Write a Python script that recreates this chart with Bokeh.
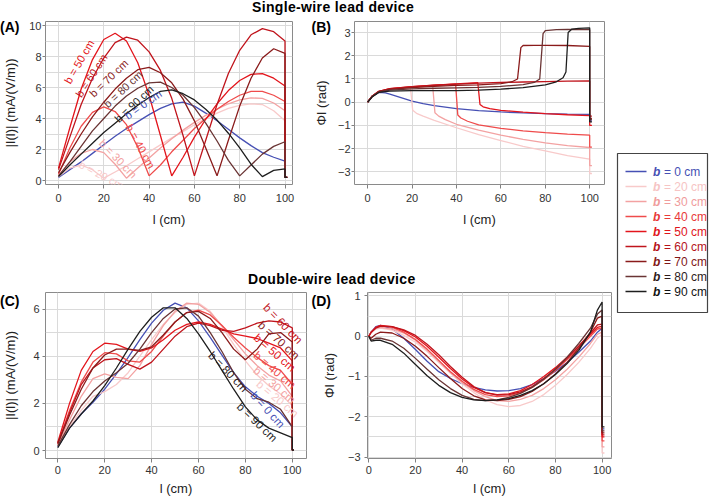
from bokeh.plotting import figure
from bokeh.layouts import row, column
from bokeh.models import Range1d, Div, FixedTicker
from bokeh.embed import file_html
from bokeh.resources import INLINE
from bokeh.core.properties import value

FONT = "Liberation Sans"

# ---------------- data ----------------
B_CM = [0, 20, 30, 40, 50, 60, 70, 80, 90]
LINE_COLORS = ["#4650b4", "#f8caca", "#f3a2a2", "#ef4b4b", "#e3151c", "#c0141c", "#8a1b1b", "#6a3434", "#1e1e1e"]
TEXT_COLORS = ["#4650b4", "#f6c4c4", "#f09c9c", "#e83a3a", "#e0141b", "#b5121a", "#7f1616", "#2e1a1a", "#111111"]

L_GRID = [0, 5, 10, 15, 20, 25, 30, 35, 40, 45, 50, 55, 60, 65, 70, 75, 80, 85, 90, 95, 100]

# (A) single-wire |I(l)|
A_B0 = [0.2, 0.7, 1.2, 1.75, 2.3, 2.85, 3.35, 3.8, 4.25, 4.65, 4.95, 5.05, 4.8, 4.35, 3.85, 3.3, 2.75, 2.25, 1.8, 1.5, 1.25]
A_B20 = [0.25, 0.8, 1.0, 0.7, 0.15, 0.55, 0.95, 1.4, 1.85, 2.3, 2.75, 3.15, 3.6, 4.0, 4.35, 4.65, 4.85, 4.95, 4.9, 4.5, 3.85]
A_B30 = [0.3, 1.2, 1.75, 2.0, 1.8, 1.05, 0.15, 0.8, 1.45, 2.1, 2.7, 3.25, 3.75, 4.2, 4.6, 4.95, 5.2, 5.33, 5.3, 5.0, 4.5]
A_B40 = [0.4, 2.1, 3.5, 4.4, 4.75, 4.45, 3.6, 2.15, 0.3, 1.0, 1.85, 2.6, 3.35, 4.0, 4.6, 5.1, 5.5, 5.75, 5.75, 5.5, 5.1]
A_B50 = [0.8, 3.4, 5.9, 7.8, 9.1, 9.5, 9.0, 7.6, 5.5, 2.9, 0.3, 1.5, 2.8, 3.95, 4.95, 5.8, 6.45, 6.85, 6.9, 6.6, 6.1]
A_B60 = [0.7, 2.8, 4.9, 6.6, 7.9, 8.9, 9.25, 9.05, 8.3, 7.1, 5.3, 2.9, 0.3, 2.6, 4.9, 6.9, 8.4, 9.4, 9.8, 9.6, 9.0]
A_B70 = [0.5, 1.8, 3.0, 4.1, 5.05, 5.9, 6.6, 7.15, 7.3, 6.95, 6.3, 5.25, 3.85, 2.1, 0.3, 2.6, 4.8, 6.6, 7.9, 8.5, 8.2]
A_B80 = [0.3, 1.2, 2.2, 3.2, 4.0, 4.8, 5.45, 5.95, 6.3, 6.35, 6.0, 5.5, 4.7, 3.7, 2.55, 1.3, 0.3, 1.0, 1.7, 2.2, 2.5]
A_B90 = [0.25, 1.0, 1.7, 2.4, 3.1, 3.7, 4.3, 4.85, 5.35, 5.75, 5.85, 5.6, 5.2, 4.6, 3.9, 3.05, 2.1, 1.05, 0.25, 0.65, 0.75]
A_END = 0.2

A_LABEL_B = [50, 60, 70, 80, 90, 0, 40, 30, 20]
A_LABEL_L = [9.1, 14.5, 22.2, 28.5, 33.3, 37.3, 36.2, 26.3, 18.9]
A_LABEL_V = [7.66, 6.77, 6.6, 5.9, 4.95, 4.9, 2.2, 1.4, 0.37]
A_LABEL_ANG = [60, 57, 44, 43, 43, 35, -61, -46, -28]

# (B) single-wire phase
B_L0 = [0, 2, 5, 8, 10, 15, 20, 25, 30, 40, 50, 60, 70, 80, 90, 100, 100, 101]
B_V0 = [0, 0.25, 0.42, 0.4, 0.35, 0.2, 0.05, -0.06, -0.15, -0.28, -0.36, -0.42, -0.46, -0.49, -0.51, -0.52, -0.8, -0.8]
B_L20 = [0, 2, 5, 10, 15, 19.3, 20.3, 22, 25, 30, 40, 50, 60, 70, 80, 90, 100, 100, 101]
B_V20 = [0, 0.25, 0.45, 0.55, 0.6, 0.62, -0.35, -0.48, -0.6, -0.78, -1.1, -1.4, -1.65, -1.9, -2.1, -2.3, -2.45, -3.07, -3.07]
B_L30 = [0, 2, 5, 10, 20, 29.3, 30.3, 32, 35, 40, 50, 60, 70, 80, 90, 100, 100, 101]
B_V30 = [0, 0.25, 0.45, 0.56, 0.65, 0.7, -0.45, -0.6, -0.75, -0.95, -1.2, -1.42, -1.6, -1.75, -1.87, -1.95, -2.73, -2.73]
B_L40 = [0, 2, 5, 10, 20, 30, 39.6, 40.6, 42, 45, 50, 60, 70, 80, 90, 100, 100, 101]
B_V40 = [0, 0.25, 0.46, 0.57, 0.66, 0.72, 0.78, -0.55, -0.68, -0.82, -0.98, -1.13, -1.23, -1.31, -1.37, -1.42, -1.93, -1.93]
B_L50 = [0, 2, 5, 10, 20, 30, 40, 49.6, 50.6, 52, 55, 60, 70, 80, 90, 100, 100, 101]
B_V50 = [0, 0.26, 0.47, 0.58, 0.67, 0.73, 0.79, 0.84, -0.1, -0.2, -0.28, -0.35, -0.43, -0.49, -0.54, -0.58, -1.0, -1.0]
B_L60 = [0, 2, 5, 10, 20, 30, 40, 50, 60, 70, 80, 90, 100, 100, 101]
B_V60 = [0, 0.26, 0.47, 0.58, 0.67, 0.73, 0.78, 0.82, 0.85, 0.87, 0.89, 0.91, 0.92, -0.6, -0.6]
B_L70 = [0, 2, 5, 10, 20, 30, 40, 50, 60, 65, 67.5, 69, 70, 75, 80, 90, 100, 100, 101]
B_V70 = [0, 0.25, 0.45, 0.55, 0.63, 0.68, 0.72, 0.75, 0.8, 0.88, 1.0, 2.35, 2.44, 2.45, 2.45, 2.44, 2.4, -0.7, -0.7]
B_L80 = [0, 2, 5, 10, 20, 30, 40, 50, 60, 70, 75, 77.5, 79, 80, 85, 90, 100, 100, 101]
B_V80 = [0, 0.24, 0.44, 0.52, 0.57, 0.6, 0.62, 0.64, 0.68, 0.76, 0.85, 1.0, 2.95, 3.08, 3.12, 3.13, 3.12, -0.75, -0.75]
B_L90 = [0, 2, 5, 10, 20, 30, 40, 50, 60, 70, 80, 85, 88, 89.3, 90.3, 92, 95, 100, 100, 101]
B_V90 = [0, 0.22, 0.42, 0.48, 0.5, 0.5, 0.5, 0.52, 0.56, 0.63, 0.75, 0.88, 1.05, 1.3, 3.0, 3.15, 3.18, 3.2, -0.85, -0.85]

# (C) double-wire |I(l)|
C_B0 = [0.15, 0.95, 1.55, 2.05, 2.6, 3.25, 3.95, 4.7, 5.4, 5.95, 6.25, 6.05, 5.5, 4.8, 4.05, 3.3, 2.7, 2.3, 2.0, 1.6, 1.0]
C_B20 = [0.2, 1.0, 1.7, 2.3, 2.5, 2.8, 3.3, 4.0, 4.7, 5.35, 5.85, 6.2, 6.25, 5.9, 5.25, 4.5, 3.8, 3.2, 2.75, 2.4, 1.9]
C_B30 = [0.25, 1.3, 2.3, 3.05, 3.25, 3.1, 3.05, 3.6, 4.5, 5.3, 5.9, 6.25, 6.2, 5.85, 5.3, 4.7, 4.1, 3.6, 3.2, 2.95, 2.3]
C_B40 = [0.3, 1.7, 2.9, 3.75, 4.15, 4.1, 3.8, 3.75, 4.2, 4.85, 5.45, 5.85, 5.95, 5.75, 5.3, 4.8, 4.35, 3.95, 3.6, 3.4, 2.8]
C_B50 = [0.35, 2.0, 3.4, 4.2, 4.55, 4.5, 4.3, 4.2, 4.35, 4.7, 5.1, 5.35, 5.45, 5.35, 5.15, 4.95, 4.85, 4.75, 4.55, 4.35, 3.8]
C_B60 = [0.3, 1.6, 2.8, 3.5, 3.85, 3.9, 3.65, 3.45, 3.75, 4.3, 4.85, 5.25, 5.4, 5.3, 5.1, 5.05, 5.2, 5.4, 5.5, 5.45, 5.2]
C_B70 = [0.3, 1.5, 2.6, 3.5, 4.05, 4.3, 4.3, 4.25, 4.4, 4.9, 5.45, 5.85, 5.9, 5.6, 5.0, 4.3, 3.85, 4.3, 4.95, 5.0, 4.6]
C_B80 = [0.2, 1.1, 1.9, 2.5, 2.95, 3.3, 3.7, 4.3, 5.0, 5.6, 6.0, 6.05, 5.7, 5.0, 4.2, 3.3, 2.6, 2.2, 2.05, 1.75, 1.0]
C_B90 = [0.12, 0.95, 1.55, 2.1, 2.75, 3.5, 4.3, 5.05, 5.65, 6.05, 6.05, 5.6, 4.95, 4.2, 3.4, 2.6, 1.85, 1.3, 0.95, 0.75, 0.55]
C_END = 0.02

C_LABEL_B = [60, 70, 50, 40, 30, 20, 0, 80, 90]
C_LABEL_L = [96.0, 94.3, 92.5, 92.5, 92.4, 93.7, 89.5, 72.6, 85.0]
C_LABEL_V = [5.38, 4.68, 4.15, 3.41, 2.78, 2.2, 1.73, 3.34, 1.2]
C_LABEL_ANG = [-46, -42, -41, -40, -40, -40, -48, -46, -44]

# (D) double-wire phase
L_D = [0, 1, 3, 5, 10, 15, 20, 25, 30, 35, 40, 45, 50, 55, 60, 65, 70, 75, 80, 85, 90, 95, 98, 100]
D_B0 = [0, 0.1, 0.24, 0.27, 0.18, -0.05, -0.33, -0.62, -0.88, -1.05, -1.18, -1.27, -1.33, -1.36, -1.35, -1.3, -1.2, -1.05, -0.87, -0.65, -0.4, -0.12, 0.1, 0.2]
D_B20 = [0, 0.08, 0.18, 0.2, 0.15, 0.02, -0.15, -0.38, -0.65, -0.92, -1.18, -1.4, -1.58, -1.7, -1.75, -1.72, -1.62, -1.45, -1.22, -0.95, -0.65, -0.3, -0.05, 0.05]
D_B30 = [0, 0.1, 0.2, 0.22, 0.18, 0.08, -0.1, -0.35, -0.62, -0.9, -1.15, -1.35, -1.5, -1.6, -1.62, -1.57, -1.47, -1.3, -1.08, -0.82, -0.52, -0.18, 0.05, 0.1]
D_B40 = [0, 0.1, 0.22, 0.26, 0.22, 0.1, -0.08, -0.32, -0.6, -0.88, -1.12, -1.32, -1.45, -1.5, -1.48, -1.4, -1.27, -1.08, -0.85, -0.58, -0.3, 0.0, 0.18, 0.2]
D_B50 = [0, 0.1, 0.22, 0.27, 0.24, 0.14, -0.02, -0.25, -0.52, -0.8, -1.06, -1.27, -1.4, -1.45, -1.43, -1.35, -1.2, -1.0, -0.78, -0.52, -0.25, 0.05, 0.22, 0.25]
D_B60 = [0, 0.1, 0.2, 0.25, 0.24, 0.16, 0.02, -0.2, -0.46, -0.75, -1.02, -1.25, -1.4, -1.46, -1.45, -1.38, -1.25, -1.05, -0.82, -0.55, -0.25, 0.08, 0.28, 0.3]
D_B70 = [0, -0.05, 0.05, 0.1, 0.08, -0.05, -0.25, -0.5, -0.78, -1.05, -1.3, -1.48, -1.58, -1.6, -1.57, -1.5, -1.37, -1.18, -0.94, -0.65, -0.3, 0.1, 0.45, 0.5]
D_B80 = [0, -0.1, -0.05, -0.05, -0.12, -0.3, -0.55, -0.82, -1.08, -1.3, -1.47, -1.57, -1.6, -1.58, -1.52, -1.42, -1.27, -1.07, -0.82, -0.52, -0.18, 0.2, 0.55, 0.65]
D_B90 = [0, -0.12, -0.1, -0.1, -0.2, -0.42, -0.7, -0.98, -1.22, -1.4, -1.52, -1.58, -1.6, -1.58, -1.55, -1.47, -1.35, -1.18, -0.95, -0.68, -0.35, 0.1, 0.65, 0.85]
D_END = [-2.3, -2.9, -2.75, -2.6, -2.5, -2.45, -2.4, -2.35, -2.25]

A_SERIES = [A_B0, A_B20, A_B30, A_B40, A_B50, A_B60, A_B70, A_B80, A_B90]
B_SERIES_L = [B_L0, B_L20, B_L30, B_L40, B_L50, B_L60, B_L70, B_L80, B_L90]
B_SERIES_V = [B_V0, B_V20, B_V30, B_V40, B_V50, B_V60, B_V70, B_V80, B_V90]
C_SERIES = [C_B0, C_B20, C_B30, C_B40, C_B50, C_B60, C_B70, C_B80, C_B90]
D_SERIES = [D_B0, D_B20, D_B30, D_B40, D_B50, D_B60, D_B70, D_B80, D_B90]

X_TICKS = [0, 20, 40, 60, 80, 100]


# ---------------- helpers ----------------
def panel(box, frame, xmap, ymap, yticks, ygrid, ylabel, ystand, ylab_stand, xstand, xlab_stand):
    left, top, w, h = box
    fl, ft, fr, fb = frame
    x0, xs = xmap
    y0, ys = ymap
    p = figure(width=w, height=h, title=None,
               x_range=Range1d((fl - x0) / xs, (fr - x0) / xs),
               y_range=Range1d((y0 - fb) / ys, (y0 - ft) / ys),
               min_border_left=fl - left, min_border_right=left + w - fr,
               min_border_top=ft - top, min_border_bottom=top + h - fb,
               output_backend="svg", toolbar_location=None)
    p.background_fill_color = "white"
    p.border_fill_color = None
    p.outline_line_color = "#8a8a8a"
    p.outline_line_width = 1
    p.xaxis.ticker = FixedTicker(ticks=X_TICKS)
    p.yaxis.ticker = FixedTicker(ticks=yticks)
    p.xgrid.ticker = FixedTicker(ticks=X_TICKS)
    p.ygrid.ticker = FixedTicker(ticks=ygrid)
    for g in (p.xgrid[0], p.ygrid[0]):
        g.grid_line_color = "#dadada"
        g.grid_line_width = 1
    for ax in (p.xaxis[0], p.yaxis[0]):
        ax.axis_line_color = None
        ax.major_tick_line_color = "#808080"
        ax.minor_tick_line_color = None
        ax.major_tick_in = 0
        ax.major_label_text_font = FONT
        ax.major_label_text_font_size = "11px"
        ax.major_label_text_color = "#333333"
        ax.axis_label_text_font = FONT
        ax.axis_label_text_font_size = "13px"
        ax.axis_label_text_font_style = "normal"
        ax.axis_label_text_color = "#222222"
    p.xaxis.major_tick_out = 4
    p.yaxis.major_tick_out = 3
    p.yaxis.major_label_standoff = ystand
    p.yaxis.axis_label_standoff = ylab_stand
    p.xaxis.major_label_standoff = xstand
    p.xaxis.axis_label_standoff = xlab_stand
    p.xaxis.axis_label = "l (cm)"
    p.yaxis.axis_label = ylabel
    return p


# ---------------- panel A ----------------
A_MAP = ((58.0, 2.265), (180.0, 15.5))
pA = panel((0, 16, 310, 216), (45, 21, 292, 184), *A_MAP,
           yticks=[0, 2, 4, 6, 8, 10], ygrid=list(range(0, 11)),
           ylabel="|I(l)| (mA/(V/m))", ystand=1, ylab_stand=8, xstand=5, xlab_stand=7)
for vals, col in zip(A_SERIES, LINE_COLORS):
    pA.line(L_GRID + [100, 101], vals + [A_END, A_END], line_color=col, line_width=1.3)
for b, lx, ly, ang in zip(A_LABEL_B, A_LABEL_L, A_LABEL_V, A_LABEL_ANG):
    i = B_CM.index(b)
    pA.text(x=[lx], y=[ly], text=[f"b = {b} cm"], angle=ang, angle_units="deg",
            text_font=value(FONT), text_font_size="11px", text_color=LINE_COLORS[i],
            text_align="center", text_baseline="middle")

# ---------------- panel B ----------------
B_MAP = ((362.4, 2.265), (101.7, 23.23))
pB = panel((310, 16, 303, 216), (349, 21, 604, 184), *B_MAP,
           yticks=[-3, -2, -1, 0, 1, 2, 3], ygrid=[-3, -2, -1, 0, 1, 2, 3],
           ylabel="ΦI (rad)", ystand=1, ylab_stand=6, xstand=5, xlab_stand=7)
for ls, vs, col in zip(B_SERIES_L, B_SERIES_V, LINE_COLORS):
    pB.line(ls, vs, line_color=col, line_width=1.3)

# ---------------- panel C ----------------
C_MAP = ((57.3, 2.345), (451.0, 23.73))
pC = panel((0, 287, 310, 211), (45, 292, 306, 459), *C_MAP,
           yticks=[0, 2, 4, 6], ygrid=[0, 1, 2, 3, 4, 5, 6],
           ylabel="|I(l)| (mA/(V/m))", ystand=3, ylab_stand=12, xstand=3, xlab_stand=4)
for vals, col in zip(C_SERIES, LINE_COLORS):
    pC.line(L_GRID + [100, 100.7], vals + [C_END, C_END], line_color=col, line_width=1.3)
for b, lx, ly, ang in zip(C_LABEL_B, C_LABEL_L, C_LABEL_V, C_LABEL_ANG):
    i = B_CM.index(b)
    pC.text(x=[lx], y=[ly], text=[f"b = {b} cm"], angle=ang, angle_units="deg",
            text_font=value(FONT), text_font_size="11.5px",
            text_color=TEXT_COLORS[i] if b == 80 else LINE_COLORS[i],
            text_align="center", text_baseline="middle")

# ---------------- panel D ----------------
D_MAP = ((368.3, 2.333), (336.0, 40.5))
pD = panel((310, 287, 303, 211), (367, 292, 611, 459), *D_MAP,
           yticks=[-3, -2, -1, 0, 1], ygrid=[-3, -2.5, -2, -1.5, -1, -0.5, 0, 0.5, 1],
           ylabel="ΦI (rad)", ystand=4, ylab_stand=8, xstand=3, xlab_stand=4)
for vals, end, col in zip(D_SERIES, D_END, LINE_COLORS):
    pD.line(L_D + [100, 101], vals + [end, end], line_color=col, line_width=1.3)

# ---------------- titles and panel tags (HTML) ----------------
TXT = "font-family:'Liberation Sans',Arial,sans-serif;font-weight:bold;color:#000;white-space:nowrap;position:absolute;margin:0;"
TITLE = TXT + "font-size:14px;line-height:15px;letter-spacing:0.35px;"
TAG = TXT + "font-size:14px;line-height:14px;"


def overlay_div(w, h, items):
    inner = "".join(f'<div style="{st}left:{x}px;top:{y}px;">{t}</div>' for t, x, y, st in items)
    return Div(text=f'<div style="position:relative;width:{w}px;height:{h}px;overflow:visible;">{inner}</div>',
               width=w, height=h, margin=(0, 0, 0, 0),
               styles={"overflow": "visible", "z-index": "10", "position": "relative"})


div1 = overlay_div(613, 16, [("Single-wire lead device", 252, 0, TITLE),
                             ("(A)", 0, 19.5, TAG), ("(B)", 311.5, 20, TAG)])
div2 = overlay_div(613, 55, [("Double-wire lead device", 248, 39.5, TITLE),
                             ("(C)", 0, 62, TAG), ("(D)", 311.5, 62, TAG)])

# ---------------- legend ----------------
leg = figure(width=96, height=498, x_range=Range1d(0, 96), y_range=Range1d(498, 0),
             output_backend="svg", toolbar_location=None, title=None, min_border=0)
leg.axis.visible = False
leg.grid.visible = False
leg.outline_line_color = None
leg.background_fill_color = "white"
leg.border_fill_color = None
leg.quad(left=[4], right=[94], top=[153], bottom=[312], fill_color=None, line_color="#444444", line_width=1.2)
ys = [171 + 15 * i for i in range(len(B_CM))]
leg.segment(x0=[12] * len(ys), x1=[33] * len(ys), y0=ys, y1=ys, line_color=LINE_COLORS, line_width=1.5)
leg.text(x=[39.5] * len(ys), y=ys, text=["b"] * len(ys), text_color=TEXT_COLORS,
         text_font=value(FONT), text_font_style="bold italic", text_font_size="12px",
         text_baseline="middle", text_align="left")
leg.text(x=[50.5] * len(ys), y=ys, text=[f"= {b} cm" for b in B_CM], text_color=TEXT_COLORS,
         text_font=value(FONT), text_font_size="12px", text_baseline="middle", text_align="left")

left_col = column(div1, row(pA, pB), div2, row(pC, pD))
root = row(left_col, leg)

open("out.html", "w").write(file_html(root, INLINE))
